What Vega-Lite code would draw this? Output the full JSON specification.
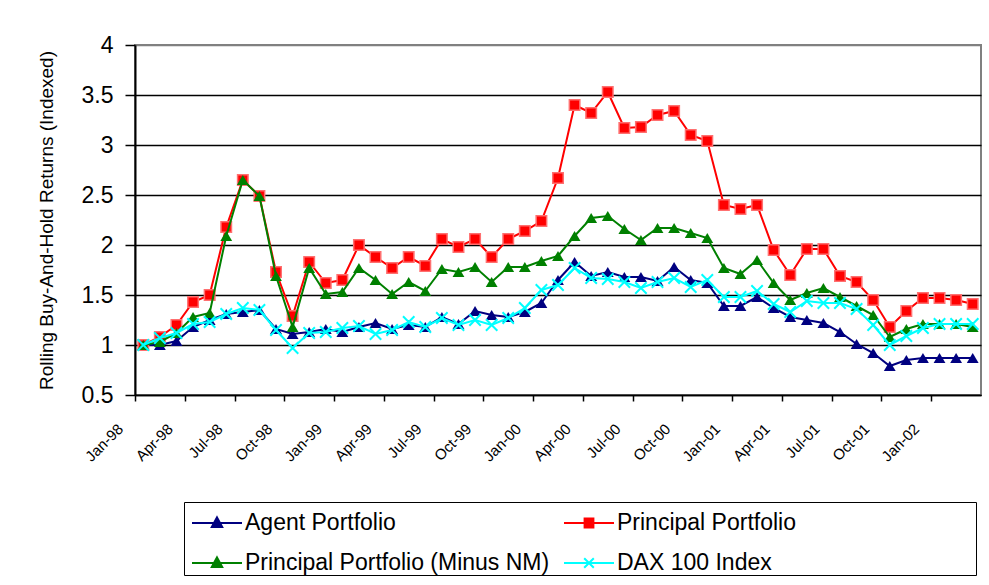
{
"$schema": "https://vega.github.io/schema/vega-lite/v6.json",
"width": 846, "height": 350,
"autosize": {"type": "none"},
"padding": {"left": 135, "top": 45, "right": 8, "bottom": 190},
"background": "white",
"config": {"font": "Liberation Sans", "view": {"stroke": "#808080", "strokeWidth": 2}},
"data": {"values": [
{"m":"Jan-98","s":"Agent Portfolio","v":1.00},{"m":"Feb-98","s":"Agent Portfolio","v":1.00},{"m":"Mar-98","s":"Agent Portfolio","v":1.04},{"m":"Apr-98","s":"Agent Portfolio","v":1.18},{"m":"May-98","s":"Agent Portfolio","v":1.25},{"m":"Jun-98","s":"Agent Portfolio","v":1.31},{"m":"Jul-98","s":"Agent Portfolio","v":1.33},{"m":"Aug-98","s":"Agent Portfolio","v":1.35},{"m":"Sep-98","s":"Agent Portfolio","v":1.16},{"m":"Oct-98","s":"Agent Portfolio","v":1.11},{"m":"Nov-98","s":"Agent Portfolio","v":1.13},{"m":"Dec-98","s":"Agent Portfolio","v":1.16},
{"m":"Jan-99","s":"Agent Portfolio","v":1.13},{"m":"Feb-99","s":"Agent Portfolio","v":1.18},{"m":"Mar-99","s":"Agent Portfolio","v":1.22},{"m":"Apr-99","s":"Agent Portfolio","v":1.16},{"m":"May-99","s":"Agent Portfolio","v":1.20},{"m":"Jun-99","s":"Agent Portfolio","v":1.18},{"m":"Jul-99","s":"Agent Portfolio","v":1.28},{"m":"Aug-99","s":"Agent Portfolio","v":1.21},{"m":"Sep-99","s":"Agent Portfolio","v":1.34},{"m":"Oct-99","s":"Agent Portfolio","v":1.30},{"m":"Nov-99","s":"Agent Portfolio","v":1.28},{"m":"Dec-99","s":"Agent Portfolio","v":1.33},
{"m":"Jan-00","s":"Agent Portfolio","v":1.42},{"m":"Feb-00","s":"Agent Portfolio","v":1.65},{"m":"Mar-00","s":"Agent Portfolio","v":1.83},{"m":"Apr-00","s":"Agent Portfolio","v":1.69},{"m":"May-00","s":"Agent Portfolio","v":1.73},{"m":"Jun-00","s":"Agent Portfolio","v":1.68},{"m":"Jul-00","s":"Agent Portfolio","v":1.68},{"m":"Aug-00","s":"Agent Portfolio","v":1.64},{"m":"Sep-00","s":"Agent Portfolio","v":1.78},{"m":"Oct-00","s":"Agent Portfolio","v":1.65},{"m":"Nov-00","s":"Agent Portfolio","v":1.62},{"m":"Dec-00","s":"Agent Portfolio","v":1.39},
{"m":"Jan-01","s":"Agent Portfolio","v":1.39},{"m":"Feb-01","s":"Agent Portfolio","v":1.48},{"m":"Mar-01","s":"Agent Portfolio","v":1.37},{"m":"Apr-01","s":"Agent Portfolio","v":1.28},{"m":"May-01","s":"Agent Portfolio","v":1.25},{"m":"Jun-01","s":"Agent Portfolio","v":1.22},{"m":"Jul-01","s":"Agent Portfolio","v":1.13},{"m":"Aug-01","s":"Agent Portfolio","v":1.01},{"m":"Sep-01","s":"Agent Portfolio","v":0.92},{"m":"Oct-01","s":"Agent Portfolio","v":0.79},{"m":"Nov-01","s":"Agent Portfolio","v":0.85},{"m":"Dec-01","s":"Agent Portfolio","v":0.87},
{"m":"Jan-02","s":"Agent Portfolio","v":0.87},{"m":"Feb-02","s":"Agent Portfolio","v":0.87},{"m":"Mar-02","s":"Agent Portfolio","v":0.87},
{"m":"Jan-98","s":"Principal Portfolio","v":1.00},{"m":"Feb-98","s":"Principal Portfolio","v":1.08},{"m":"Mar-98","s":"Principal Portfolio","v":1.20},{"m":"Apr-98","s":"Principal Portfolio","v":1.43},{"m":"May-98","s":"Principal Portfolio","v":1.50},{"m":"Jun-98","s":"Principal Portfolio","v":2.18},{"m":"Jul-98","s":"Principal Portfolio","v":2.65},{"m":"Aug-98","s":"Principal Portfolio","v":2.49},{"m":"Sep-98","s":"Principal Portfolio","v":1.73},{"m":"Oct-98","s":"Principal Portfolio","v":1.29},{"m":"Nov-98","s":"Principal Portfolio","v":1.83},{"m":"Dec-98","s":"Principal Portfolio","v":1.62},
{"m":"Jan-99","s":"Principal Portfolio","v":1.65},{"m":"Feb-99","s":"Principal Portfolio","v":2.00},{"m":"Mar-99","s":"Principal Portfolio","v":1.88},{"m":"Apr-99","s":"Principal Portfolio","v":1.77},{"m":"May-99","s":"Principal Portfolio","v":1.88},{"m":"Jun-99","s":"Principal Portfolio","v":1.79},{"m":"Jul-99","s":"Principal Portfolio","v":2.06},{"m":"Aug-99","s":"Principal Portfolio","v":1.98},{"m":"Sep-99","s":"Principal Portfolio","v":2.06},{"m":"Oct-99","s":"Principal Portfolio","v":1.88},{"m":"Nov-99","s":"Principal Portfolio","v":2.06},{"m":"Dec-99","s":"Principal Portfolio","v":2.14},
{"m":"Jan-00","s":"Principal Portfolio","v":2.24},{"m":"Feb-00","s":"Principal Portfolio","v":2.67},{"m":"Mar-00","s":"Principal Portfolio","v":3.40},{"m":"Apr-00","s":"Principal Portfolio","v":3.32},{"m":"May-00","s":"Principal Portfolio","v":3.53},{"m":"Jun-00","s":"Principal Portfolio","v":3.17},{"m":"Jul-00","s":"Principal Portfolio","v":3.18},{"m":"Aug-00","s":"Principal Portfolio","v":3.30},{"m":"Sep-00","s":"Principal Portfolio","v":3.34},{"m":"Oct-00","s":"Principal Portfolio","v":3.10},{"m":"Nov-00","s":"Principal Portfolio","v":3.04},{"m":"Dec-00","s":"Principal Portfolio","v":2.40},
{"m":"Jan-01","s":"Principal Portfolio","v":2.36},{"m":"Feb-01","s":"Principal Portfolio","v":2.40},{"m":"Mar-01","s":"Principal Portfolio","v":1.95},{"m":"Apr-01","s":"Principal Portfolio","v":1.70},{"m":"May-01","s":"Principal Portfolio","v":1.96},{"m":"Jun-01","s":"Principal Portfolio","v":1.96},{"m":"Jul-01","s":"Principal Portfolio","v":1.69},{"m":"Aug-01","s":"Principal Portfolio","v":1.63},{"m":"Sep-01","s":"Principal Portfolio","v":1.45},{"m":"Oct-01","s":"Principal Portfolio","v":1.18},{"m":"Nov-01","s":"Principal Portfolio","v":1.34},{"m":"Dec-01","s":"Principal Portfolio","v":1.47},
{"m":"Jan-02","s":"Principal Portfolio","v":1.47},{"m":"Feb-02","s":"Principal Portfolio","v":1.45},{"m":"Mar-02","s":"Principal Portfolio","v":1.41},
{"m":"Jan-98","s":"Principal Portfolio (Minus NM)","v":1.00},{"m":"Feb-98","s":"Principal Portfolio (Minus NM)","v":1.03},{"m":"Mar-98","s":"Principal Portfolio (Minus NM)","v":1.12},{"m":"Apr-98","s":"Principal Portfolio (Minus NM)","v":1.28},{"m":"May-98","s":"Principal Portfolio (Minus NM)","v":1.32},{"m":"Jun-98","s":"Principal Portfolio (Minus NM)","v":2.09},{"m":"Jul-98","s":"Principal Portfolio (Minus NM)","v":2.65},{"m":"Aug-98","s":"Principal Portfolio (Minus NM)","v":2.49},{"m":"Sep-98","s":"Principal Portfolio (Minus NM)","v":1.69},{"m":"Oct-98","s":"Principal Portfolio (Minus NM)","v":1.18},{"m":"Nov-98","s":"Principal Portfolio (Minus NM)","v":1.77},{"m":"Dec-98","s":"Principal Portfolio (Minus NM)","v":1.51},
{"m":"Jan-99","s":"Principal Portfolio (Minus NM)","v":1.53},{"m":"Feb-99","s":"Principal Portfolio (Minus NM)","v":1.77},{"m":"Mar-99","s":"Principal Portfolio (Minus NM)","v":1.65},{"m":"Apr-99","s":"Principal Portfolio (Minus NM)","v":1.51},{"m":"May-99","s":"Principal Portfolio (Minus NM)","v":1.63},{"m":"Jun-99","s":"Principal Portfolio (Minus NM)","v":1.54},{"m":"Jul-99","s":"Principal Portfolio (Minus NM)","v":1.76},{"m":"Aug-99","s":"Principal Portfolio (Minus NM)","v":1.73},{"m":"Sep-99","s":"Principal Portfolio (Minus NM)","v":1.78},{"m":"Oct-99","s":"Principal Portfolio (Minus NM)","v":1.63},{"m":"Nov-99","s":"Principal Portfolio (Minus NM)","v":1.78},{"m":"Dec-99","s":"Principal Portfolio (Minus NM)","v":1.78},
{"m":"Jan-00","s":"Principal Portfolio (Minus NM)","v":1.84},{"m":"Feb-00","s":"Principal Portfolio (Minus NM)","v":1.89},{"m":"Mar-00","s":"Principal Portfolio (Minus NM)","v":2.09},{"m":"Apr-00","s":"Principal Portfolio (Minus NM)","v":2.27},{"m":"May-00","s":"Principal Portfolio (Minus NM)","v":2.29},{"m":"Jun-00","s":"Principal Portfolio (Minus NM)","v":2.16},{"m":"Jul-00","s":"Principal Portfolio (Minus NM)","v":2.05},{"m":"Aug-00","s":"Principal Portfolio (Minus NM)","v":2.17},{"m":"Sep-00","s":"Principal Portfolio (Minus NM)","v":2.17},{"m":"Oct-00","s":"Principal Portfolio (Minus NM)","v":2.12},{"m":"Nov-00","s":"Principal Portfolio (Minus NM)","v":2.07},{"m":"Dec-00","s":"Principal Portfolio (Minus NM)","v":1.77},
{"m":"Jan-01","s":"Principal Portfolio (Minus NM)","v":1.71},{"m":"Feb-01","s":"Principal Portfolio (Minus NM)","v":1.85},{"m":"Mar-01","s":"Principal Portfolio (Minus NM)","v":1.62},{"m":"Apr-01","s":"Principal Portfolio (Minus NM)","v":1.45},{"m":"May-01","s":"Principal Portfolio (Minus NM)","v":1.52},{"m":"Jun-01","s":"Principal Portfolio (Minus NM)","v":1.57},{"m":"Jul-01","s":"Principal Portfolio (Minus NM)","v":1.48},{"m":"Aug-01","s":"Principal Portfolio (Minus NM)","v":1.39},{"m":"Sep-01","s":"Principal Portfolio (Minus NM)","v":1.30},{"m":"Oct-01","s":"Principal Portfolio (Minus NM)","v":1.08},{"m":"Nov-01","s":"Principal Portfolio (Minus NM)","v":1.16},{"m":"Dec-01","s":"Principal Portfolio (Minus NM)","v":1.21},
{"m":"Jan-02","s":"Principal Portfolio (Minus NM)","v":1.21},{"m":"Feb-02","s":"Principal Portfolio (Minus NM)","v":1.21},{"m":"Mar-02","s":"Principal Portfolio (Minus NM)","v":1.18},
{"m":"Jan-98","s":"DAX 100 Index","v":1.00},{"m":"Feb-98","s":"DAX 100 Index","v":1.07},{"m":"Mar-98","s":"DAX 100 Index","v":1.12},{"m":"Apr-98","s":"DAX 100 Index","v":1.21},{"m":"May-98","s":"DAX 100 Index","v":1.23},{"m":"Jun-98","s":"DAX 100 Index","v":1.31},{"m":"Jul-98","s":"DAX 100 Index","v":1.37},{"m":"Aug-98","s":"DAX 100 Index","v":1.35},{"m":"Sep-98","s":"DAX 100 Index","v":1.15},{"m":"Oct-98","s":"DAX 100 Index","v":0.97},{"m":"Nov-98","s":"DAX 100 Index","v":1.12},{"m":"Dec-98","s":"DAX 100 Index","v":1.13},
{"m":"Jan-99","s":"DAX 100 Index","v":1.17},{"m":"Feb-99","s":"DAX 100 Index","v":1.19},{"m":"Mar-99","s":"DAX 100 Index","v":1.11},{"m":"Apr-99","s":"DAX 100 Index","v":1.15},{"m":"May-99","s":"DAX 100 Index","v":1.23},{"m":"Jun-99","s":"DAX 100 Index","v":1.18},{"m":"Jul-99","s":"DAX 100 Index","v":1.27},{"m":"Aug-99","s":"DAX 100 Index","v":1.20},{"m":"Sep-99","s":"DAX 100 Index","v":1.25},{"m":"Oct-99","s":"DAX 100 Index","v":1.20},{"m":"Nov-99","s":"DAX 100 Index","v":1.27},{"m":"Dec-99","s":"DAX 100 Index","v":1.37},
{"m":"Jan-00","s":"DAX 100 Index","v":1.55},{"m":"Feb-00","s":"DAX 100 Index","v":1.60},{"m":"Mar-00","s":"DAX 100 Index","v":1.77},{"m":"Apr-00","s":"DAX 100 Index","v":1.67},{"m":"May-00","s":"DAX 100 Index","v":1.66},{"m":"Jun-00","s":"DAX 100 Index","v":1.63},{"m":"Jul-00","s":"DAX 100 Index","v":1.57},{"m":"Aug-00","s":"DAX 100 Index","v":1.63},{"m":"Sep-00","s":"DAX 100 Index","v":1.67},{"m":"Oct-00","s":"DAX 100 Index","v":1.58},{"m":"Nov-00","s":"DAX 100 Index","v":1.65},{"m":"Dec-00","s":"DAX 100 Index","v":1.48},
{"m":"Jan-01","s":"DAX 100 Index","v":1.48},{"m":"Feb-01","s":"DAX 100 Index","v":1.54},{"m":"Mar-01","s":"DAX 100 Index","v":1.41},{"m":"Apr-01","s":"DAX 100 Index","v":1.33},{"m":"May-01","s":"DAX 100 Index","v":1.44},{"m":"Jun-01","s":"DAX 100 Index","v":1.42},{"m":"Jul-01","s":"DAX 100 Index","v":1.42},{"m":"Aug-01","s":"DAX 100 Index","v":1.36},{"m":"Sep-01","s":"DAX 100 Index","v":1.20},{"m":"Oct-01","s":"DAX 100 Index","v":1.00},{"m":"Nov-01","s":"DAX 100 Index","v":1.09},{"m":"Dec-01","s":"DAX 100 Index","v":1.17},
{"m":"Jan-02","s":"DAX 100 Index","v":1.21},{"m":"Feb-02","s":"DAX 100 Index","v":1.21},{"m":"Mar-02","s":"DAX 100 Index","v":1.21}
]},
"encoding": {
  "x": {"field": "m", "type": "ordinal", "sort": ["Jan-98","Feb-98","Mar-98","Apr-98","May-98","Jun-98","Jul-98","Aug-98","Sep-98","Oct-98","Nov-98","Dec-98","Jan-99","Feb-99","Mar-99","Apr-99","May-99","Jun-99","Jul-99","Aug-99","Sep-99","Oct-99","Nov-99","Dec-99","Jan-00","Feb-00","Mar-00","Apr-00","May-00","Jun-00","Jul-00","Aug-00","Sep-00","Oct-00","Nov-00","Dec-00","Jan-01","Feb-01","Mar-01","Apr-01","May-01","Jun-01","Jul-01","Aug-01","Sep-01","Oct-01","Nov-01","Dec-01","Jan-02","Feb-02","Mar-02"],
        "scale": {"type": "band", "paddingInner": 0, "paddingOuter": 0},
        "axis": {"title": null,
                 "labelExpr": "indexof(['Jan','Apr','Jul','Oct'], substring(datum.value, 0, 3)) >= 0 ? datum.label : ''",
                 "tickOpacity": {"condition": {"test": "indexof(['Jan','Apr','Jul','Oct'], substring(datum.value, 0, 3)) >= 0", "value": 1}, "value": 0},
                 "tickOffset": -8.29, "labelAngle": -45, "labelAlign": "right", "labelBaseline": "middle",
                 "labelPadding": 25, "labelOffset": -15, "labelFontSize": 15, "labelColor": "black",
                 "labelFont": "Liberation Sans", "labelOverlap": false, "labelFlush": false,
                 "tickSize": 6, "tickColor": "black", "tickWidth": 1.5,
                 "domainColor": "black", "domainWidth": 1.5, "grid": false}},
  "y": {"field": "v", "type": "quantitative",
        "scale": {"domain": [0.5, 4], "nice": false, "zero": false},
        "axis": {"title": "Rolling Buy-And-Hold Returns (Indexed)", "titleFontSize": 19, "titleFontWeight": "normal",
                 "titleColor": "black", "titleFont": "Liberation Sans", "titlePadding": 25,
                 "values": [0.5, 1, 1.5, 2, 2.5, 3, 3.5, 4], "format": "~g",
                 "labelFontSize": 23, "labelColor": "black", "labelFont": "Liberation Sans", "labelPadding": 12, "labelFlush": false,
                 "tickSize": 10, "tickColor": "black", "tickWidth": 1.5,
                 "domainColor": "black", "domainWidth": 2,
                 "grid": true, "gridWidth": 1.5,
                 "gridColor": {"condition": {"test": "datum.value === 4", "value": "#808080"}, "value": "black"}}}
},
"layer": [
  {"transform": [{"filter": "datum.s === 'Agent Portfolio'"}],
   "layer": [
    {"mark": {"type": "line", "strokeWidth": 2},
     "encoding": {"color": {"field": "s", "type": "nominal",
       "scale": {"domain": ["Agent Portfolio", "Principal Portfolio", "Principal Portfolio (Minus NM)", "DAX 100 Index"],
                 "range": ["#000080", "#FF0000", "#008000", "#00FFFF"]},
       "legend": {"orient": "none", "legendX": 49, "legendY": 457, "columns": 2, "direction": "horizontal",
                  "title": " ", "titleOrient": "right", "titlePadding": 180, "titleFontSize": 10,
                  "strokeColor": "black", "padding": 0, "rowPadding": 7, "columnPadding": 6,
                  "symbolSize": 1600, "symbolStrokeWidth": 2, "symbolOffset": 12, "labelOffset": 7,
                  "labelFontSize": 23, "labelColor": "black", "labelFont": "Liberation Sans", "labelLimit": 500,
                  "encode": {
                    "symbols": {"update": {
                      "shape": {"signal": "datum.value === 'Principal Portfolio' ? 'M-1.25,0H1.25M-0.22,-0.22H0.22V0.22H-0.22Z' : datum.value === 'DAX 100 Index' ? 'M-1.25,0H1.25M-0.24,-0.24L0.24,0.24M-0.24,0.24L0.24,-0.24' : 'M-1.25,0H1.25M0,-0.28L0.26,0.2L-0.26,0.2Z'"},
                      "fill": {"signal": "datum.value === 'DAX 100 Index' ? 'transparent' : scale('color', datum.value)"},
                      "stroke": {"signal": "scale('color', datum.value)"},
                      "strokeWidth": {"value": 2},
                      "opacity": {"value": 1}
                    }}
                  }}}}},
    {"mark": {"type": "point", "shape": "triangle-up", "filled": true, "size": 140, "color": "#000080", "opacity": 1}}
   ]},
  {"transform": [{"filter": "datum.s === 'Principal Portfolio'"}],
   "layer": [
    {"mark": {"type": "line", "strokeWidth": 2}, "encoding": {"color": {"field": "s", "type": "nominal"}}},
    {"mark": {"type": "point", "shape": "square", "filled": true, "size": 110, "fill": "#FF0000", "stroke": "#FF7070", "strokeWidth": 1.5, "opacity": 1}}
   ]},
  {"transform": [{"filter": "datum.s === 'Principal Portfolio (Minus NM)'"}],
   "layer": [
    {"mark": {"type": "line", "strokeWidth": 2}, "encoding": {"color": {"field": "s", "type": "nominal"}}},
    {"mark": {"type": "point", "shape": "triangle-up", "filled": true, "size": 140, "color": "#008000", "opacity": 1}}
   ]},
  {"transform": [{"filter": "datum.s === 'DAX 100 Index'"}],
   "layer": [
    {"mark": {"type": "line", "strokeWidth": 2}, "encoding": {"color": {"field": "s", "type": "nominal"}}},
    {"mark": {"type": "point", "shape": "M-1,-1L1,1M-1,1L1,-1", "filled": false, "size": 130, "stroke": "#00FFFF", "strokeWidth": 2, "opacity": 1}}
   ]}
]
}
